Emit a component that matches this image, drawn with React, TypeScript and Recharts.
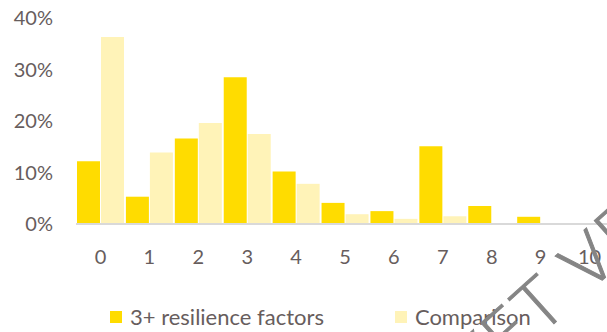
import { Bar, BarChart, Legend, XAxis, YAxis } from 'recharts'

const categories = ['0', '1', '2', '3', '4', '5', '6', '7', '8', '9', '10']
const resilienceValues = [12.2, 5.3, 16.6, 28.5, 10.2, 4.1, 2.5, 15.1, 3.5, 1.4, 0]
const comparisonValues = [36.3, 13.9, 19.6, 17.5, 7.8, 1.9, 1.0, 1.5, 0, 0, 0]
const yTicks = [0, 10, 20, 30, 40]

const SERIES = [
  { key: 'resilience', name: '3+ resilience factors', color: '#FFDC00' },
  { key: 'comparison', name: 'Comparison', color: '#FFF3B8' },
]

const TEXT_COLOR = '#675d5d'
const FONT = 'Lato, "Open Sans", sans-serif'

const chartData = categories.map((label, i) => ({
  label,
  resilience: resilienceValues[i],
  comparison: comparisonValues[i],
}))

function ChartLegend({ payload }: { payload?: readonly { value?: string; color?: string }[] }) {
  return (
    <div style={{ display: 'flex', alignItems: 'center', marginLeft: 110, gap: 71 }}>
      {(payload ?? []).map((entry) => (
        <div key={entry.value} style={{ display: 'flex', alignItems: 'center' }}>
          <span style={{ width: 12, height: 12, background: entry.color, marginRight: 8 }} />
          <span style={{ fontFamily: FONT, fontSize: 22, color: TEXT_COLOR, lineHeight: '24px' }}>
            {entry.value}
          </span>
        </div>
      ))}
    </div>
  )
}

export default function App() {
  return (
    <div
      style={{
        position: 'absolute',
        left: 0,
        top: 0,
        width: 607,
        height: 332,
        overflow: 'hidden',
        background: '#fff',
      }}
    >
      <BarChart
        width={614}
        height={332}
        data={chartData}
        margin={{ top: 18, right: 0, bottom: 0, left: 0 }}
        barCategoryGap={1}
        barGap={1}
      >
        <XAxis
          dataKey="label"
          height={84}
          tickLine={false}
          axisLine={{ stroke: '#d9d9d9', strokeWidth: 2 }}
          tickMargin={20}
          tick={{ fill: TEXT_COLOR, fontSize: 20, fontFamily: FONT }}
          interval={0}
        />
        <YAxis
          width={76}
          domain={[0, 40]}
          ticks={yTicks}
          tickFormatter={(v: number) => `${v}%`}
          tickLine={false}
          axisLine={false}
          tickMargin={17}
          tick={{ fill: TEXT_COLOR, fontSize: 20, fontFamily: FONT }}
        />
        {SERIES.map((s) => (
          <Bar key={s.key} dataKey={s.key} name={s.name} fill={s.color} isAnimationActive={false} />
        ))}
        <Legend
          content={<ChartLegend />}
          wrapperStyle={{ left: 0, top: 305, width: 607, bottom: 'auto' }}
        />
      </BarChart>
      <svg
        width={607}
        height={332}
        style={{ position: 'absolute', left: 0, top: 0, pointerEvents: 'none' }}
      >
        <text
          x={477}
          y={393}
          transform="rotate(-42 477 393)"
          fontFamily='"DejaVu Sans", sans-serif'
          fontWeight={200}
          fontSize={68}
          fill="#858585"
          stroke="#858585"
          strokeWidth={1}
        >
          YET VERIFIED
        </text>
      </svg>
    </div>
  )
}
